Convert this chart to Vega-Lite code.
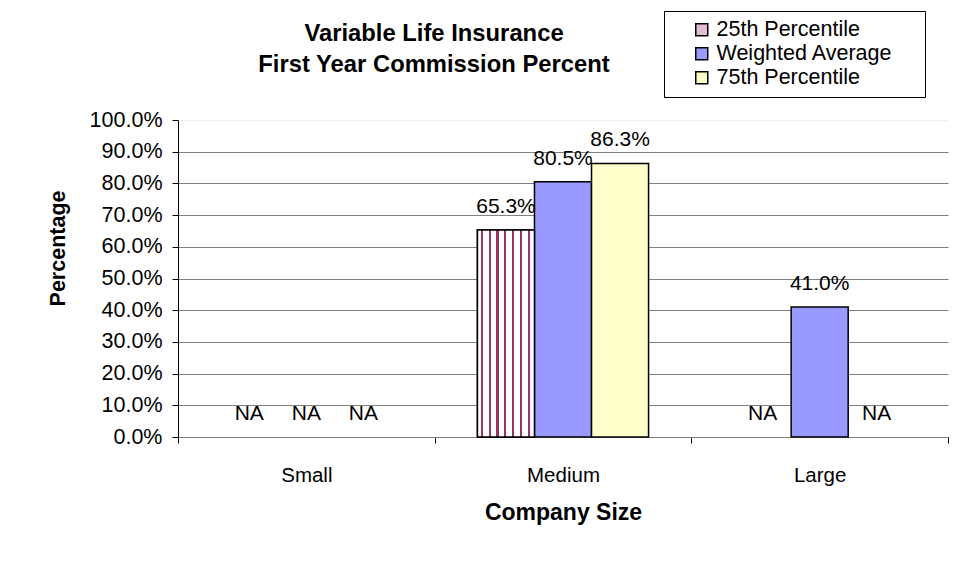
{
  "$schema": "https://vega.github.io/schema/vega-lite/v6.json",
  "width": 770,
  "height": 317,
  "autosize": {"type": "none"},
  "padding": {"left": 178, "top": 120, "right": 10, "bottom": 126},
  "background": "white",
  "config": {"font": "Liberation Sans", "view": {"stroke": null}},
  "title": {
    "text": ["Variable Life Insurance", "First Year Commission Percent"],
    "fontSize": 23.8,
    "fontWeight": "bold",
    "color": "black",
    "anchor": "middle",
    "dx": -129,
    "offset": -66,
    "lineHeight": 31
  },
  "data": {
    "values": [
      {"size": "Small", "series": "25th Percentile", "value": null},
      {"size": "Small", "series": "Weighted Average", "value": null},
      {"size": "Small", "series": "75th Percentile", "value": null},
      {"size": "Medium", "series": "25th Percentile", "value": 0.653},
      {"size": "Medium", "series": "Weighted Average", "value": 0.805},
      {"size": "Medium", "series": "75th Percentile", "value": 0.863},
      {"size": "Large", "series": "25th Percentile", "value": null},
      {"size": "Large", "series": "Weighted Average", "value": 0.41},
      {"size": "Large", "series": "75th Percentile", "value": null}
    ]
  },
  "transform": [
    {"calculate": "datum.value == null ? 0 : datum.value", "as": "labelY"},
    {"calculate": "datum.value == null ? 'NA' : format(datum.value, '.1%')", "as": "label"}
  ],
  "encoding": {
    "x": {
      "field": "size",
      "type": "nominal",
      "sort": ["Small", "Medium", "Large"],
      "scale": {"paddingInner": 0, "paddingOuter": 0},
      "axis": {
        "title": "Company Size",
        "titleFontSize": 23,
        "titleFontWeight": "bold",
        "titleColor": "black",
        "titlePadding": 16,
        "labelFontSize": 20.5,
        "labelColor": "black",
        "labelAngle": 0,
        "labelPadding": 22,
        "tickBand": "extent",
        "tickSize": 6,
        "tickColor": "black",
        "domainColor": "#808080",
        "grid": false
      }
    },
    "xOffset": {
      "field": "series",
      "type": "nominal",
      "sort": ["25th Percentile", "Weighted Average", "75th Percentile"],
      "scale": {
        "domain": ["25th Percentile", "Weighted Average", "75th Percentile"],
        "paddingInner": 0,
        "paddingOuter": 0.75
      }
    },
    "y": {
      "field": "value",
      "type": "quantitative",
      "scale": {"domain": [0, 1]},
      "axis": {
        "title": "Percentage",
        "format": ".1%",
        "values": [0, 0.1, 0.2, 0.3, 0.4, 0.5, 0.6, 0.7, 0.8, 0.9, 1.0],
        "labelFontSize": 21.5,
        "labelColor": "black",
        "labelPadding": 10,
        "tickSize": 6,
        "tickColor": "black",
        "domainColor": "black",
        "gridColor": {"condition": {"test": "datum.value >= 0.999", "value": "#f0f0f0"}, "value": "#808080"},
        "gridOpacity": 1,
        "titleFontSize": 21.5,
        "titleFontWeight": "bold",
        "titleColor": "black",
        "titlePadding": 20,
        "titleY": 128
      }
    }
  },
  "layer": [
    {
      "mark": {"type": "bar", "stroke": "black", "strokeWidth": 1.5},
      "encoding": {
        "color": {
          "field": "series",
          "type": "nominal",
          "sort": ["25th Percentile", "Weighted Average", "75th Percentile"],
          "scale": {
            "domain": ["25th Percentile", "Weighted Average", "75th Percentile"],
            "range": ["#E3BCCF", "#9999FF", "#FFFFCC"]
          },
          "legend": {
            "title": null,
            "orient": "none",
            "legendX": 486,
            "legendY": -109,
            "padding": 8,
            "symbolOffset": 19,
            "symbolType": "square",
            "symbolSize": 144,
            "symbolStrokeColor": "black",
            "symbolStrokeWidth": 1.5,
            "symbolOpacity": 1,
            "labelFontSize": 21.5,
            "labelColor": "black",
            "labelOffset": 4,
            "labelLimit": 400,
            "rowPadding": 1,
            "labelExpr": "datum.label + '    \u200b'",
            "strokeColor": "black",
            "fillColor": "white"
          }
        }
      }
    },
    {
      "transform": [{"filter": "datum.series == '25th Percentile'"}],
      "mark": {
        "type": "bar",
        "stroke": "black",
        "strokeWidth": 1.5,
        "fill": {
          "gradient": "linear",
          "x1": 0, "y1": 0, "x2": 1, "y2": 0,
          "stops": [
            {"offset": 0, "color": "#ffffff"},
            {"offset": 0.059, "color": "#ffffff"},
            {"offset": 0.059, "color": "#993366"},
            {"offset": 0.095, "color": "#993366"},
            {"offset": 0.095, "color": "#ffffff"},
            {"offset": 0.196, "color": "#ffffff"},
            {"offset": 0.196, "color": "#993366"},
            {"offset": 0.232, "color": "#993366"},
            {"offset": 0.232, "color": "#ffffff"},
            {"offset": 0.334, "color": "#ffffff"},
            {"offset": 0.334, "color": "#993366"},
            {"offset": 0.37, "color": "#993366"},
            {"offset": 0.37, "color": "#ffffff"},
            {"offset": 0.471, "color": "#ffffff"},
            {"offset": 0.471, "color": "#993366"},
            {"offset": 0.507, "color": "#993366"},
            {"offset": 0.507, "color": "#ffffff"},
            {"offset": 0.609, "color": "#ffffff"},
            {"offset": 0.609, "color": "#993366"},
            {"offset": 0.645, "color": "#993366"},
            {"offset": 0.645, "color": "#ffffff"},
            {"offset": 0.746, "color": "#ffffff"},
            {"offset": 0.746, "color": "#993366"},
            {"offset": 0.782, "color": "#993366"},
            {"offset": 0.782, "color": "#ffffff"},
            {"offset": 0.884, "color": "#ffffff"},
            {"offset": 0.884, "color": "#993366"},
            {"offset": 0.92, "color": "#993366"},
            {"offset": 0.92, "color": "#ffffff"},
            {"offset": 1, "color": "#ffffff"}
          ]
        }
      }
    },
    {
      "mark": {"type": "text", "baseline": "bottom", "dy": -13, "fontSize": 21, "color": "black"},
      "encoding": {
        "y": {"field": "labelY", "type": "quantitative"},
        "text": {"field": "label", "type": "nominal"}
      }
    }
  ]
}
